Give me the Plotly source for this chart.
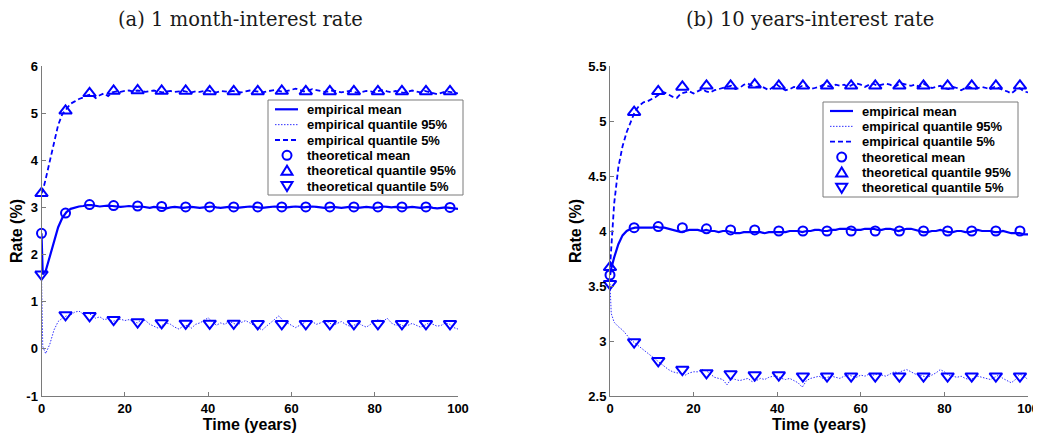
import plotly.graph_objects as go

# the page body adds an 8 px margin, so the figure is drawn 8 px in from the corner
OFF = 8
W, H = 1041 - OFF, 434 - OFF

# ---------------- data ----------------
t_emp = [0, 0.3] + list(range(1, 101))

# (a) 1 month-interest rate
a_mean = [2.45, 1.58, 1.65, 1.95, 2.30, 2.58, 2.78, 2.90, 2.97, 3.00, 3.02, 3.03, 3.05, 3.05, 3.03, 3.02, 3.03, 3.04, 3.03, 3.02, 3.01, 3.02,
          3.03, 3.02, 3.01, 3.02, 3.00, 2.99, 3.01, 3.00, 2.99, 2.98,
          3.00, 3.01, 3.00, 2.99, 3.00, 3.01, 3.00, 2.99, 3.00, 3.01,
          3.02, 3.00, 2.99, 3.00, 3.01, 3.00, 2.99, 3.00, 3.01, 3.02,
          3.01, 3.00, 2.99, 3.00, 3.01, 3.02, 3.01, 3.00, 3.00, 3.01,
          3.02, 3.01, 3.00, 3.01, 3.02, 3.01, 3.00, 2.99, 3.00, 3.01,
          3.00, 2.99, 3.00, 3.01, 3.00, 2.99, 3.00, 3.01, 3.00, 2.99,
          3.00, 3.02, 3.01, 3.00, 3.01, 3.00, 2.99, 3.00, 3.01, 3.00,
          2.99, 3.00, 3.01, 2.99, 2.98, 2.99, 3.00, 2.99, 2.98, 2.97]
a_upper = [3.30, 3.35, 3.60, 4.00, 4.40, 4.75, 4.98, 5.10, 5.20, 5.25, 5.30, 5.33, 5.38, 5.40, 5.32, 5.38, 5.42, 5.36, 5.44, 5.46, 5.45, 5.47,
           5.48, 5.46, 5.48, 5.47, 5.45, 5.47, 5.48, 5.46, 5.44, 5.46,
           5.47, 5.45, 5.46, 5.47, 5.45, 5.44, 5.46, 5.45, 5.47, 5.48,
           5.45, 5.44, 5.47, 5.46, 5.45, 5.47, 5.46, 5.44, 5.46, 5.48,
           5.47, 5.45, 5.44, 5.46, 5.48, 5.49, 5.47, 5.45, 5.47, 5.50,
           5.52, 5.49, 5.46, 5.48, 5.51, 5.49, 5.47, 5.45, 5.46, 5.48,
           5.46, 5.44, 5.46, 5.47, 5.45, 5.43, 5.45, 5.47, 5.46, 5.44,
           5.47, 5.49, 5.46, 5.44, 5.47, 5.45, 5.43, 5.46, 5.48, 5.46,
           5.44, 5.47, 5.45, 5.42, 5.40, 5.43, 5.46, 5.45, 5.44, 5.42]
a_lower = [1.58, 0.05, -0.10, 0.10, 0.40, 0.58, 0.65, 0.70, 0.72, 0.78, 0.80, 0.74, 0.76, 0.72, 0.65, 0.68, 0.62, 0.64, 0.58, 0.60, 0.63, 0.60,
           0.62, 0.58, 0.55, 0.62, 0.60, 0.52, 0.48, 0.44, 0.50, 0.55,
           0.52, 0.46, 0.42, 0.48, 0.50, 0.44, 0.52, 0.55, 0.60, 0.66,
           0.58, 0.50, 0.55, 0.52, 0.58, 0.55, 0.50, 0.56, 0.60, 0.55,
           0.50, 0.46, 0.40, 0.48, 0.55, 0.62, 0.70, 0.60, 0.55, 0.50,
           0.45, 0.50, 0.55, 0.60, 0.58, 0.52, 0.55, 0.60, 0.56, 0.50,
           0.54, 0.58, 0.52, 0.48, 0.50, 0.55, 0.50, 0.46, 0.52, 0.60,
           0.62, 0.58, 0.65, 0.55, 0.50, 0.52, 0.48, 0.50, 0.54, 0.50,
           0.46, 0.50, 0.55, 0.52, 0.48, 0.50, 0.55, 0.52, 0.45, 0.42]

# (b) 10 years-interest rate
b_mean = [3.60, 3.66, 3.76, 3.88, 3.96, 4.00, 4.02, 4.03, 4.03, 4.03, 4.03, 4.03, 4.04, 4.03, 4.03, 4.02, 4.01, 4.00, 3.99, 4.00, 4.01, 4.01,
          4.01, 4.00, 4.01, 4.00, 4.00, 3.99, 4.00, 4.00, 3.99, 3.98,
          3.98, 3.99, 3.99, 3.99, 3.99, 3.99, 3.98, 3.99, 3.99, 3.99,
          3.99, 3.99, 4.00, 4.00, 4.00, 3.99, 4.00, 4.00, 4.01, 4.01,
          4.00, 4.00, 4.01, 4.01, 4.02, 4.02, 4.02, 4.01, 4.01, 4.01,
          4.02, 4.02, 4.02, 4.01, 4.01, 4.02, 4.02, 4.01, 4.00, 4.01,
          4.02, 4.02, 4.01, 4.00, 3.99, 3.99, 4.00, 4.00, 4.01, 4.00,
          3.99, 3.99, 4.00, 4.00, 3.99, 3.99, 4.00, 4.01, 4.00, 4.00,
          4.00, 3.99, 3.99, 4.00, 3.99, 3.98, 3.98, 3.98, 3.97, 3.97]
b_upper = [3.67, 3.85, 4.25, 4.58, 4.77, 4.90, 5.00, 5.09, 5.14, 5.17, 5.18, 5.20, 5.22, 5.25, 5.26, 5.24, 5.22, 5.21, 5.25, 5.26, 5.27, 5.25,
           5.27, 5.29, 5.27, 5.26, 5.28, 5.29, 5.30, 5.31, 5.32, 5.29,
           5.30, 5.33, 5.34, 5.32, 5.31, 5.32, 5.30, 5.28, 5.31, 5.33,
           5.30, 5.28, 5.29, 5.31, 5.30, 5.32, 5.32, 5.29, 5.30, 5.31,
           5.33, 5.32, 5.31, 5.33, 5.32, 5.33, 5.31, 5.33, 5.34, 5.33,
           5.31, 5.33, 5.34, 5.32, 5.33, 5.34, 5.33, 5.31, 5.33, 5.34,
           5.33, 5.32, 5.33, 5.31, 5.34, 5.32, 5.30, 5.31, 5.32, 5.30,
           5.29, 5.31, 5.30, 5.28, 5.30, 5.31, 5.29, 5.30, 5.31, 5.30,
           5.29, 5.31, 5.30, 5.28, 5.27, 5.25, 5.28, 5.30, 5.27, 5.26]
b_lower = [3.52, 3.25, 3.17, 3.13, 3.10, 3.05, 3.01, 2.98, 2.95, 2.92, 2.89, 2.86, 2.83, 2.80, 2.77, 2.74, 2.72, 2.71, 2.71, 2.69, 2.71, 2.72,
           2.72, 2.74, 2.73, 2.70, 2.67, 2.66, 2.65, 2.60, 2.66, 2.65,
           2.64, 2.65, 2.66, 2.63, 2.64, 2.66, 2.65, 2.67, 2.68, 2.68,
           2.66, 2.65, 2.66, 2.64, 2.62, 2.58, 2.64, 2.66, 2.67, 2.68,
           2.66, 2.67, 2.68, 2.67, 2.66, 2.68, 2.69, 2.68, 2.67, 2.69,
           2.68, 2.70, 2.69, 2.70, 2.69, 2.68, 2.70, 2.72, 2.71, 2.73,
           2.74, 2.72, 2.70, 2.69, 2.68, 2.67, 2.69, 2.71, 2.74, 2.72,
           2.69, 2.68, 2.67, 2.68, 2.66, 2.65, 2.66, 2.68, 2.67, 2.66,
           2.65, 2.67, 2.69, 2.66, 2.64, 2.62, 2.65, 2.70, 2.68, 2.65]

# theoretical values (markers)
t_theo = [0, 5.77, 11.54, 17.31, 23.08, 28.85, 34.62, 40.38, 46.15, 51.92,
          57.69, 63.46, 69.23, 75.0, 80.77, 86.54, 92.31, 98.08]
a_theo_mean = [2.45, 2.88, 3.06, 3.04, 3.03, 3.02, 3.01, 3.01, 3.01, 3.01, 3.01, 3.01, 3.01, 3.01, 3.01, 3.01, 3.01, 3.00]
a_theo_up = [3.30, 5.05, 5.42, 5.47, 5.48, 5.47, 5.47, 5.46, 5.46, 5.46, 5.47, 5.46, 5.46, 5.46, 5.46, 5.46, 5.46, 5.46]
a_theo_dn = [1.58, 0.72, 0.70, 0.62, 0.57, 0.55, 0.54, 0.54, 0.54, 0.53, 0.53, 0.53, 0.53, 0.53, 0.53, 0.53, 0.53, 0.53]
b_theo_mean = [3.60, 4.03, 4.04, 4.03, 4.02, 4.01, 4.01, 4.00, 4.00, 4.00, 4.00, 4.00, 4.00, 4.00, 4.00, 4.00, 4.00, 4.00]
b_theo_up = [3.67, 5.08, 5.27, 5.31, 5.32, 5.32, 5.33, 5.32, 5.32, 5.32, 5.32, 5.32, 5.32, 5.32, 5.32, 5.32, 5.32, 5.32]
b_theo_dn = [3.52, 2.99, 2.82, 2.74, 2.71, 2.70, 2.69, 2.69, 2.68, 2.68, 2.68, 2.68, 2.68, 2.68, 2.68, 2.68, 2.68, 2.68]

panel_titles = ["(a) 1 month-interest rate", "(b) 10 years-interest rate"]
legend_labels = ["empirical mean", "empirical quantile 95%", "empirical quantile 5%",
                 "theoretical mean", "theoretical quantile 95%", "theoretical quantile 5%"]
x_ticks = [0, 20, 40, 60, 80, 100]
a_yticks = [-1, 0, 1, 2, 3, 4, 5, 6]
a_yticklabels = ["-1", "0", "1", "2", "3", "4", "5", "6"]
b_yticks = [2.5, 3, 3.5, 4, 4.5, 5, 5.5]
b_yticklabels = ["2.5", "3", "3.5", "4", "4.5", "5", "5.5"]

# ---------------- styling ----------------
BLUE = "#0000ff"
DOTBLUE = "#3030ff"
GREY = "#7a7a7a"
SANS = "Liberation Sans, Arial, sans-serif"


def px(x):
    """window pixel x -> paper coordinate"""
    return (x - OFF) / W


def py(y):
    """window pixel y -> paper coordinate"""
    return 1 - (y - OFF) / H


fig = go.Figure()

panels = [
    dict(xa="x", ya="y", mean=a_mean, up=a_upper, lo=a_lower,
         tm=a_theo_mean, tu=a_theo_up, td=a_theo_dn),
    dict(xa="x2", ya="y2", mean=b_mean, up=b_upper, lo=b_lower,
         tm=b_theo_mean, tu=b_theo_up, td=b_theo_dn),
]

for p in panels:
    common = dict(xaxis=p["xa"], yaxis=p["ya"], showlegend=False, cliponaxis=False)
    fig.add_trace(go.Scatter(x=t_emp, y=p["lo"], mode="lines", name=legend_labels[1],
                             line=dict(color=DOTBLUE, width=1, dash="1.5px,1.5px"), **common))
    fig.add_trace(go.Scatter(x=t_emp, y=p["up"], mode="lines", name=legend_labels[2],
                             line=dict(color=BLUE, width=1.8, dash="5px,3px"), **common))
    fig.add_trace(go.Scatter(x=t_emp, y=p["mean"], mode="lines", name=legend_labels[0],
                             line=dict(color=BLUE, width=2.2), **common))
    fig.add_trace(go.Scatter(x=t_theo, y=p["tm"], mode="markers", name=legend_labels[3],
                             marker=dict(symbol="circle-open", size=9, color=BLUE, line=dict(width=2, color=BLUE)),
                             **common))
    fig.add_trace(go.Scatter(x=t_theo, y=p["tu"], mode="markers", name=legend_labels[4],
                             marker=dict(symbol="triangle-up-open", size=11, color=BLUE, line=dict(width=2, color=BLUE)),
                             **common))
    fig.add_trace(go.Scatter(x=t_theo, y=p["td"], mode="markers", name=legend_labels[5],
                             marker=dict(symbol="triangle-down-open", size=11, color=BLUE, line=dict(width=2, color=BLUE)),
                             **common))

axis_common = dict(showline=True, linecolor=GREY, linewidth=1, ticks="inside", ticklen=4,
                   tickcolor=GREY, tickwidth=1, showgrid=False, zeroline=False, mirror=False,
                   automargin=False,
                   tickfont=dict(family=SANS, size=13, color="black", weight="bold"))
title_font = dict(family=SANS, size=16, color="black", weight="bold")

ydom = [py(396), py(66)]
fig.update_layout(
    width=W, height=H, autosize=False,
    margin=dict(l=0, r=0, t=0, b=0),
    paper_bgcolor="white", plot_bgcolor="white",
    showlegend=False,
    xaxis=dict(domain=[px(41.5), px(458)], range=[0, 100], tickvals=x_ticks, anchor="y",
               title=dict(text="Time (years)", font=title_font, standoff=0), **axis_common),
    yaxis=dict(domain=ydom, range=[-1, 6], tickvals=a_yticks, ticktext=a_yticklabels, anchor="x",
               title=dict(text="Rate (%)", font=title_font, standoff=2), **axis_common),
    xaxis2=dict(domain=[px(610), px(1028)], range=[0, 100], tickvals=x_ticks, anchor="y2",
                title=dict(text="Time (years)", font=title_font, standoff=0), **axis_common),
    yaxis2=dict(domain=ydom, range=[2.5, 5.5], tickvals=b_yticks, ticktext=b_yticklabels, anchor="x2",
                title=dict(text="Rate (%)", font=title_font, standoff=2), **axis_common),
)

# panel titles
for cx, title in zip([240, 810], panel_titles):
    fig.add_annotation(x=px(cx), y=py(20), xref="paper", yref="paper", text=title, showarrow=False,
                       xanchor="center", yanchor="middle",
                       font=dict(family="DejaVu Serif, serif", size=19.5, color="#1a1a1a"))

# legends (drawn as boxes with keys, matching the reference's compact layout)
shapes = []
legend_geo = [
    dict(box=(268, 100, 463, 195), row0=109.3, lx=(275, 298), mx=287, tx=305),
    dict(box=(823, 102, 1018, 197), row0=111.0, lx=(830, 853), mx=841.7, tx=860),
]
ROW = 15.35
for g in legend_geo:
    x0, y0, x1, y1 = g["box"]
    shapes.append(dict(type="rect", xref="paper", yref="paper", x0=px(x0), x1=px(x1), y0=py(y1), y1=py(y0),
                       line=dict(color=GREY, width=1), fillcolor="white", layer="above"))
    rows = [g["row0"] + i * ROW for i in range(6)]
    la, lb = g["lx"]
    styles = [dict(color=BLUE, width=2.2, dash="solid"),
              dict(color=DOTBLUE, width=1, dash="1.5px,1.5px"),
              dict(color=BLUE, width=1.8, dash="5px,3px")]
    for i in range(3):
        shapes.append(dict(type="line", xref="paper", yref="paper", x0=px(la), x1=px(lb), y0=py(rows[i]), y1=py(rows[i]),
                           line=styles[i], layer="above"))
    cx = g["mx"]
    r = 4.5
    cy = rows[3]
    shapes.append(dict(type="circle", xref="paper", yref="paper", x0=px(cx - r), x1=px(cx + r),
                       y0=py(cy + r), y1=py(cy - r), line=dict(color=BLUE, width=2), layer="above"))
    cy = rows[4]
    shapes.append(dict(type="path", xref="paper", yref="paper",
                       path=f"M {px(cx-5.5)} {py(cy+4)} L {px(cx+5.5)} {py(cy+4)} L {px(cx)} {py(cy-5)} Z",
                       line=dict(color=BLUE, width=2), layer="above"))
    cy = rows[5]
    shapes.append(dict(type="path", xref="paper", yref="paper",
                       path=f"M {px(cx-5.5)} {py(cy-4)} L {px(cx+5.5)} {py(cy-4)} L {px(cx)} {py(cy+5)} Z",
                       line=dict(color=BLUE, width=2), layer="above"))
    for i, lab in enumerate(legend_labels):
        fig.add_annotation(x=px(g["tx"]), y=py(rows[i]), xref="paper", yref="paper", text=lab, showarrow=False,
                           xanchor="left", yanchor="middle",
                           font=dict(family=SANS, size=13, color="black", weight="bold"))

fig.update_layout(shapes=shapes)

fig.write_html("out.html")
